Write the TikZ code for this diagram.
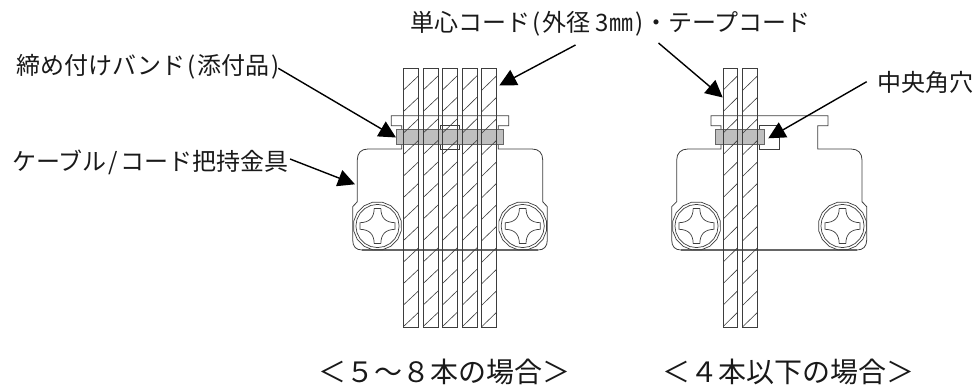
\documentclass[tikz,border=0pt]{standalone}
\usepackage{fontspec}
\setmainfont{Noto Sans CJK JP}
\usetikzlibrary{arrows.meta}
\tikzset{
  wire/.style={draw=black!76,line width=0.8pt},
  heavy/.style={draw=black!60,line width=1.3pt},
  bandfill/.style={fill=black!25,draw=black!60,line width=0.8pt},
  hatch/.style={draw=black!76,line width=0.6pt},
  lead/.style={draw=black,line width=1.4pt,-{Triangle[length=17pt,width=17pt]}},
  lbl/.style={inner sep=0pt,font=\fontsize{24}{26}\selectfont,text=black!90},
  captiontext/.style={inner sep=0pt,font=\fontsize{28}{30}\selectfont,text=black!90}
}
\newcommand{\cordbar}[2]{%
  \begin{scope}
    \clip (#1,68.3) rectangle (#2,327.3);
    \foreach \k in {0,...,12}
      \draw[hatch] (#1,326.7-21.5*\k) -- (#2,326.7-21.5*\k-14.5);
  \end{scope}
  \draw[wire] (#1,68.3) rectangle (#2,327.3);
}
\newcommand{\screwhead}[2]{%
  \begin{scope}[shift={(#1,#2)}]
    \draw[wire,line width=0.7pt] plot[samples=17,domain=0:360] ({24.3*cos(\x+11)},{24.3*sin(\x+11)}) -- cycle;
    \draw[wire,line width=0.7pt] plot[samples=21,domain=0:360] ({21.6*cos(\x)},{21.6*sin(\x)}) -- cycle;
    \draw[wire,line width=0.7pt]
      (3.3,-17.5) .. controls (3.6,-8) and (8,-3.6) .. (17.5,-3.3) -- (17.5,3.3)
      .. controls (8,3.6) and (3.6,8) .. (3.3,17.5) -- (-3.3,17.5)
      .. controls (-3.6,8) and (-8,3.6) .. (-17.5,3.3) -- (-17.5,-3.3)
      .. controls (-8,-3.6) and (-3.6,-8) .. (-3.3,-17.5) -- cycle;
  \end{scope}
}
\begin{document}
\begin{tikzpicture}[x=1pt,y=-1pt]
\useasboundingbox (0,0) rectangle (973,385);
% left figure
\draw[wire]
  (401.7,125.7) -- (401.7,149) -- (368,149) .. controls (361,149) and (357.3,153) .. (357.3,160) -- (357.3,201.7) -- (352.7,206.7)
  -- (352.7,240) .. controls (352.7,246.5) and (356,250) .. (362,250) -- (538,250) .. controls (544,250) and (547.3,246.5) .. (547.3,240)
  -- (547.3,206.7) -- (542.7,201.7) -- (542.7,160) .. controls (542.7,153) and (539,149) .. (532,149) -- (498.3,149) -- (498.3,125.7)
  -- (508.7,125.7) -- (508.7,115.7) -- (391.3,115.7) -- (391.3,125.7) -- cycle;
\draw[heavy] (362,250) -- (538,250);
\draw[wire] (440.7,125.7) rectangle (459.7,149);
\draw[bandfill] (396.3,129.3) rectangle (503.7,144.3);
\cordbar{403.3}{418.7}
\cordbar{423}{438.3}
\cordbar{442.3}{457.3}
\cordbar{462.3}{477}
\cordbar{481.7}{496.7}
\screwhead{377.5}{226}
\screwhead{522.7}{226}
% right figure
\draw[wire]
  (721,125.7) -- (721,149) -- (688,149) .. controls (681,149) and (676.7,153) .. (676.7,160) -- (676.7,201.7) -- (671.7,206.7)
  -- (671.7,240) .. controls (671.7,246.5) and (675,250) .. (681,250) -- (857,250) .. controls (863,250) and (866.7,246.5) .. (866.7,240)
  -- (866.7,206.7) -- (862,201.7) -- (862,160) .. controls (862,153) and (858,149) .. (851,149) -- (817.7,149) -- (817.7,125.7)
  -- (828,125.7) -- (828,115.7) -- (711,115.7) -- (711,125.7) -- cycle;
\draw[heavy] (681,250) -- (857,250);
\draw[wire] (759.7,125.7) rectangle (779.3,149);
\draw[bandfill] (715.7,129.3) rectangle (764.7,144.3);
\cordbar{723}{737.7}
\cordbar{742.7}{757.7}
\screwhead{696.5}{226}
\screwhead{842.5}{226}
% labels
\node[lbl,anchor=west] (lband) at (16,67) {締め付けバンド\kern2pt(\kern2pt添付品\kern2pt)};
\node[lbl,anchor=west] (lbracket) at (12,162) {ケーブル\kern2pt/\kern2ptコード把持金具};
\node[lbl,anchor=west] (lcord) at (410,24) {単心コード\kern2pt(\kern2pt外径 3㎜\kern2pt)\kern1pt・テープコード};
\node[lbl,anchor=west] (lhole) at (877,82) {中央角穴};
\node[captiontext] (cfive) at (444.5,372) {＜５～８本の場合＞};
\node[captiontext] (cfour) at (788.5,372) {＜４本以下の場合＞};
% connector ends
\coordinate (sa) at (575.5,45);
\coordinate (ta) at (499.3,85.5);
\coordinate (sb) at (658.5,43);
\coordinate (tb) at (722.7,97.5);
\coordinate (sc) at (866.7,81.7);
\coordinate (tc) at (768.3,138.3);
\coordinate (sd) at (278.3,68.3);
\coordinate (td) at (396,137.5);
\coordinate (se) at (290,159);
\coordinate (te) at (355,184.3);
\draw[lead] (sa) -- (ta);
\draw[lead] (sb) -- (tb);
\draw[lead] (sc) -- (tc);
\draw[lead] (sd) -- (td);
\draw[lead] (se) -- (te);
\end{tikzpicture}
\end{document}
